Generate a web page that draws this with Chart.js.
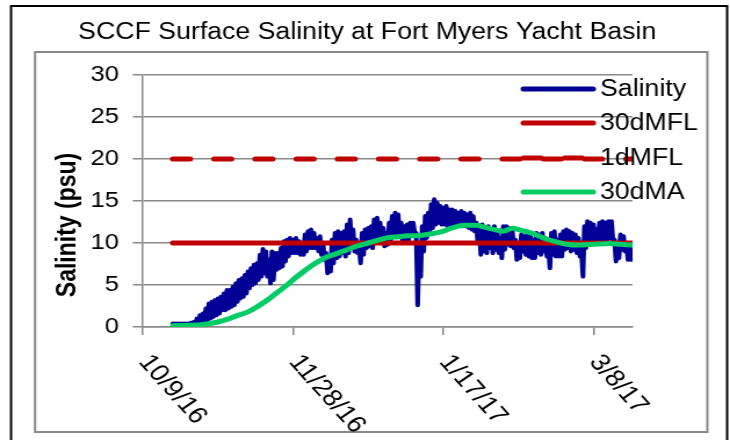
<!DOCTYPE html>
<html><head><meta charset="utf-8">
<script src="https://cdn.jsdelivr.net/npm/chart.js@4/dist/chart.umd.min.js"></script>
<style>html,body{margin:0;padding:0;background:#fff;overflow:hidden} canvas{display:block}</style>
</head><body>
<canvas id="c" width="629" height="440" style="width:730px;height:440px"></canvas>
<script>
// ---------------- data ----------------
const chartTitle = 'SCCF Surface Salinity at Fort Myers Yacht Basin';
const yAxisTitle = 'Salinity (psu)';
const seriesNames = ['Salinity', '30dMFL', '1dMFL', '30dMA'];
// x values are days since 10/9/16
const xTickDays = [0, 50, 100, 150];
const xTickLabels = ['10/9/16', '11/28/16', '1/17/17', '3/8/17'];
const xMaxDay = 163;
const yMin = 0, yMax = 30, yStep = 5;

// Salinity: daily high and daily low readings, days 10 (10/19/16) .. 163 (3/21/17)
const salinityStartDay = 10;
const salinityHigh = [
  0.4, 0.4, 0.4, 0.4, 0.4, 0.4, 0.5, 0.6, 1.0, 1.4,
  1.6, 2.2, 2.8, 3.0, 3.2, 3.4, 3.6, 4.0, 4.4, 4.4,
  4.8, 5.2, 5.6, 5.8, 6.2, 6.6, 7.0, 7.4, 7.6, 8.6,
  9.3, 9.0, 8.0, 9.0, 8.8, 8.8, 9.4, 10.2, 10.4, 10.6,
  10.4, 10.6, 10.2, 10.0, 11.0, 11.4, 11.6, 11.2, 10.6, 10.8,
  10.0, 8.8, 8.0, 10.4, 11.2, 11.4, 11.2, 11.4, 12.2, 12.8,
  11.6, 10.4, 9.6, 11.2, 11.6, 11.8, 12.0, 12.8, 13.0, 12.4,
  11.8, 11.2, 12.4, 13.2, 13.6, 13.4, 12.4, 12.0, 12.2, 12.4,
  12.4, 11.2, 10.0, 12.0, 13.2, 13.6, 14.6, 15.2, 14.8, 14.4,
  14.2, 14.4, 14.0, 14.0, 13.8, 13.6, 13.8, 13.6, 13.4, 13.6,
  13.2, 12.4, 12.0, 12.2, 11.8, 12.0, 11.6, 12.0, 11.4, 10.6,
  12.0, 12.0, 11.8, 11.4, 10.4, 10.0, 11.0, 10.8, 11.2, 11.0,
  10.4, 11.2, 11.0, 11.2, 10.6, 9.6, 11.2, 11.4, 10.4, 11.0,
  11.4, 11.6, 11.4, 11.2, 11.0, 10.6, 9.0, 12.0, 12.6, 12.4,
  12.2, 11.6, 12.4, 12.6, 12.4, 12.6, 12.6, 10.4, 10.0, 11.0,
  10.8, 9.8, 10.0, 9.2
];
const salinityLow = [
  0.1, 0.1, 0.1, 0.1, 0.1, 0.1, 0.1, 0.2, 0.2, 0.4,
  0.6, 0.8, 1.0, 1.2, 1.4, 1.6, 2.0, 2.0, 2.2, 2.4,
  2.6, 3.0, 3.4, 3.6, 4.0, 4.6, 5.0, 5.2, 5.6, 6.0,
  6.4, 6.0, 5.2, 5.6, 6.8, 7.0, 7.2, 7.8, 8.4, 8.8,
  8.8, 8.8, 8.6, 8.6, 9.0, 9.4, 9.4, 9.4, 9.0, 8.6,
  8.0, 6.4, 6.6, 7.6, 8.2, 8.4, 8.8, 8.4, 8.8, 9.6,
  9.0, 8.8, 7.6, 8.6, 9.4, 9.6, 9.4, 10.0, 10.4, 10.0,
  9.6, 9.8, 10.2, 10.8, 11.2, 10.8, 10.2, 10.2, 10.4, 11.0,
  11.2, 2.6, 6.0, 9.0, 10.6, 11.4, 11.8, 12.2, 12.4, 12.2,
  12.2, 12.0, 12.0, 12.2, 12.0, 12.2, 12.0, 12.0, 11.8, 11.6,
  11.4, 10.0, 8.6, 9.0, 8.8, 9.4, 8.8, 9.2, 8.8, 8.2,
  9.2, 9.8, 9.6, 9.4, 8.0, 8.2, 9.0, 8.6, 8.4, 8.2,
  8.2, 8.8, 8.6, 9.0, 8.4, 7.0, 8.6, 8.4, 8.4, 8.4,
  9.2, 9.4, 9.0, 9.2, 8.8, 8.4, 6.0, 9.4, 10.2, 10.2,
  10.4, 10.2, 10.4, 10.4, 10.0, 10.6, 10.2, 7.8, 8.2, 9.2,
  9.0, 8.0, 8.0, 8.2
];

const mfl30Days = [10, 163];
const mfl30Values = [10, 10];
const mfl1Days = [10, 163];
const mfl1Values = [20, 20];

const ma30Days = [10, 15, 20, 25, 28, 31, 35, 38, 41, 44,
  48, 51, 55, 58, 61, 65, 68, 71, 75, 78,
  81, 85, 88, 92, 95, 99, 103, 107, 111, 114,
  117, 120, 123, 126, 130, 134, 138, 141, 145, 150,
  155, 159, 163];
const ma30Values = [0.15, 0.2, 0.3, 0.6, 0.9, 1.3, 1.8, 2.4, 3.1, 3.9,
  5.0, 5.9, 7.0, 7.7, 8.3, 8.8, 9.2, 9.6, 10.0, 10.3,
  10.6, 10.75, 10.85, 10.9, 11.05, 11.3, 11.8, 12.1, 12.1, 11.85,
  11.6, 11.4, 11.75, 11.5, 11.1, 10.5, 10.1, 9.85, 9.75, 9.85,
  9.95, 9.85, 9.75];

// ---------------- styles ----------------
const C_BLUE = '#000096', C_RED = '#C00000', C_GREEN = '#00CC66', C_GRID = '#898989';
const FONT = '"Liberation Sans", Arial, sans-serif';
const DASH = [15, 20.5];

const pts = (xs, ys) => ys.map((y, i) => ({x: xs[i], y}));
// high reading at the start of each day, low reading half a day later
const salinityPts = [];
salinityHigh.forEach((hi, i) => {
  salinityPts.push({x: salinityStartDay + i, y: hi});
  salinityPts.push({x: salinityStartDay + i + 0.5, y: salinityLow[i]});
});

const framePlugin = {
  id: 'frame',
  beforeDraw(chart) {
    const ctx = chart.ctx;
    ctx.save();
    ctx.fillStyle = '#fff';
    ctx.fillRect(0, 0, chart.width, chart.height);
    ctx.strokeStyle = C_GRID; ctx.lineWidth = 2;
    ctx.strokeRect(30.2, 52, 579.3, 380);
    ctx.strokeStyle = '#000'; ctx.lineWidth = 2;
    ctx.strokeRect(9.5, 6, 617, 460);
    // title
    ctx.fillStyle = '#000';
    ctx.font = '23px ' + FONT;
    ctx.textAlign = 'center'; ctx.textBaseline = 'middle';
    ctx.fillText(chartTitle, 316.4, 33);
    ctx.restore();
  },
  afterDraw(chart) {
    const ctx = chart.ctx;
    const xs = chart.scales.x, ys = chart.scales.y;
    ctx.save();
    ctx.fillStyle = '#000';
    // x tick labels, rotated clockwise
    ctx.font = '24px ' + FONT;
    ctx.textAlign = 'left'; ctx.textBaseline = 'middle';
    xTickDays.forEach((d, i) => {
      const px = xs.getPixelForValue(d);
      ctx.save();
      ctx.translate(px + 1, ys.bottom + 31);
      ctx.rotate(52 * Math.PI / 180);
      ctx.fillText(xTickLabels[i], 0, 0);
      ctx.restore();
    });
    // y axis title
    ctx.save();
    ctx.font = 'bold 23px ' + FONT;
    ctx.textAlign = 'center'; ctx.textBaseline = 'middle';
    ctx.translate(58.6, 225);
    ctx.rotate(-Math.PI / 2);
    ctx.fillText(yAxisTitle, 0, 0);
    ctx.restore();
    // legend
    const rows = [89, 123, 158, 192];
    chart.data.datasets.forEach((ds, i) => {
      const y = rows[i];
      ctx.save();
      ctx.strokeStyle = ds.borderColor; ctx.lineWidth = ds.legendWidth || ds.borderWidth;
      ctx.lineCap = 'round';
      ctx.setLineDash(ds.borderDash || []);
      ctx.beginPath(); ctx.moveTo(451, y); ctx.lineTo(511, y); ctx.stroke();
      ctx.restore();
      ctx.font = '23px ' + FONT;
      ctx.textAlign = 'left'; ctx.textBaseline = 'middle';
      ctx.fillText(ds.label, 517, y + 1);
    });
    ctx.restore();
  }
};

new Chart(document.getElementById('c'), {
  type: 'line',
  data: {
    datasets: [
      {label: seriesNames[0], data: salinityPts, borderColor: C_BLUE, borderWidth: 4, legendWidth: 5, order: 4,
       borderJoinStyle: 'round', borderCapStyle: 'round'},
      {label: seriesNames[1], data: pts(mfl30Days, mfl30Values), borderColor: C_RED, borderWidth: 5, order: 3,
       borderCapStyle: 'round'},
      {label: seriesNames[2], data: pts(mfl1Days, mfl1Values), borderColor: C_RED, borderWidth: 5, order: 2,
       borderDash: DASH, borderCapStyle: 'round'},
      {label: seriesNames[3], data: pts(ma30Days, ma30Values), borderColor: C_GREEN, borderWidth: 5, order: 1,
       cubicInterpolationMode: 'monotone', borderCapStyle: 'round', borderJoinStyle: 'round'}
    ]
  },
  options: {
    responsive: false,
    devicePixelRatio: 1,
    animation: false,
    events: [],
    elements: {point: {radius: 0}, line: {tension: 0, fill: false}},
    layout: {padding: {left: 0, right: 84, top: 75, bottom: 0}},
    plugins: {
      legend: {display: false},
      tooltip: {enabled: false},
      title: {display: false}
    },
    scales: {
      x: {
        type: 'linear', min: 0, max: xMaxDay,
        afterBuildTicks: s => { s.ticks = xTickDays.map(v => ({value: v})); },
        afterFit: s => { s.height = 113; },
        ticks: {display: false},
        grid: {display: true, drawOnChartArea: false, drawTicks: true, tickLength: 8, color: C_GRID, lineWidth: 1.5},
        border: {display: true, color: C_GRID, width: 1.5}
      },
      y: {
        min: yMin, max: yMax,
        afterFit: s => { s.width = 123; },
        ticks: {stepSize: yStep, color: '#000', padding: 12, font: {family: FONT, size: 22}},
        grid: {color: C_GRID, lineWidth: 1.5, tickLength: 8.6},
        border: {display: true, color: C_GRID, width: 1.5}
      }
    }
  },
  plugins: [framePlugin]
});
</script>
</body></html>
